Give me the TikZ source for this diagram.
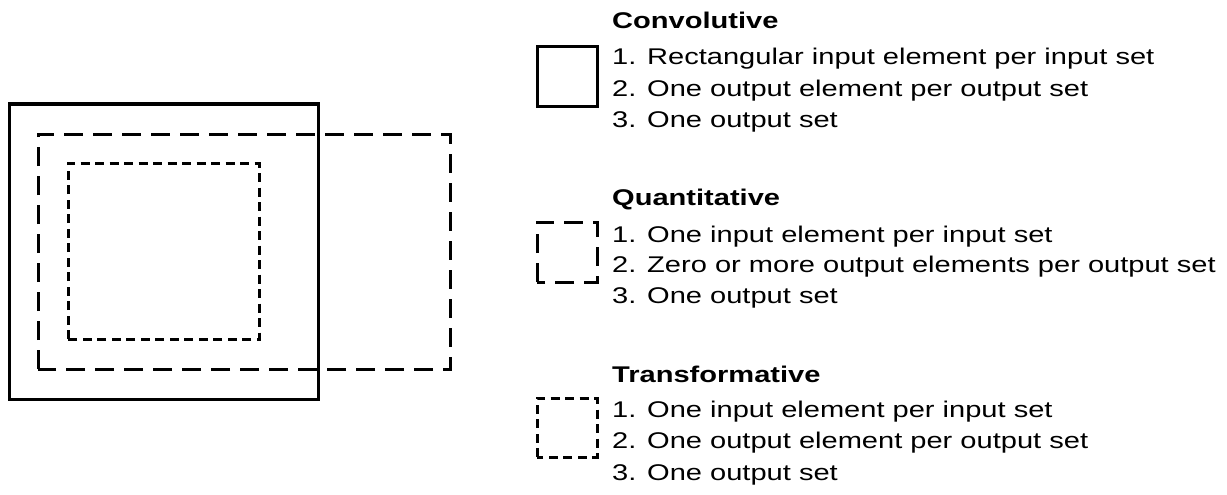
\documentclass[tikz,border=0pt]{standalone}
\usepackage{fontspec}
\setmainfont[FakeStretch=1.28]{Liberation Sans}
\begin{document}
\begin{tikzpicture}[x=1pt,y=-1pt,
  frame/.style={line width=3pt},
  longdash/.style={line width=3pt, dash pattern=on 19pt off 10pt},
  shortdash/.style={line width=3pt, dash pattern=on 9pt off 5.5pt},
  title/.style={anchor=base west, inner sep=0pt, font=\fontsize{22.7}{26}\selectfont\bfseries},
  item/.style={anchor=base west, inner sep=0pt, font=\fontsize{22.7}{26}\selectfont}]
\useasboundingbox (0,0) rectangle (1227,495);
% main diagram
\draw[frame] (9,104) rectangle (318,399);
\draw[longdash] (38,369) -- (38,134) -- (450,134) -- (450,369) -- cycle;
\draw[shortdash] (68,339) -- (68,163) -- (259,163) -- (259,339) -- cycle;
% legend: convolutive
\draw[frame] (537,47) rectangle (597,106);
\node[title] (t1) at (612,29) {Convolutive};
\node[item] (t1a) at (612,65) {1. Rectangular input element per input set};
\node[item] (t1b) at (612,96) {2. One output element per output set};
\node[item] (t1c) at (612,127) {3. One output set};
% quantitative
\draw[longdash] (537,282) -- (537,222) -- (597,222) -- (597,282) -- cycle;
\node[title] (t2) at (612,205) {Quantitative};
\node[item] (t2a) at (612,242) {1. One input element per input set};
\node[item] (t2b) at (612,272) {2. Zero or more output elements per output set};
\node[item] (t2c) at (612,303) {3. One output set};
% transformative
\draw[shortdash] (537,457) -- (537,398) -- (597,398) -- (597,457) -- cycle;
\node[title] (t3) at (612,382) {Transformative};
\node[item] (t3a) at (612,417) {1. One input element per input set};
\node[item] (t3b) at (612,448) {2. One output element per output set};
\node[item] (t3c) at (612,480) {3. One output set};
\end{tikzpicture}
\end{document}
